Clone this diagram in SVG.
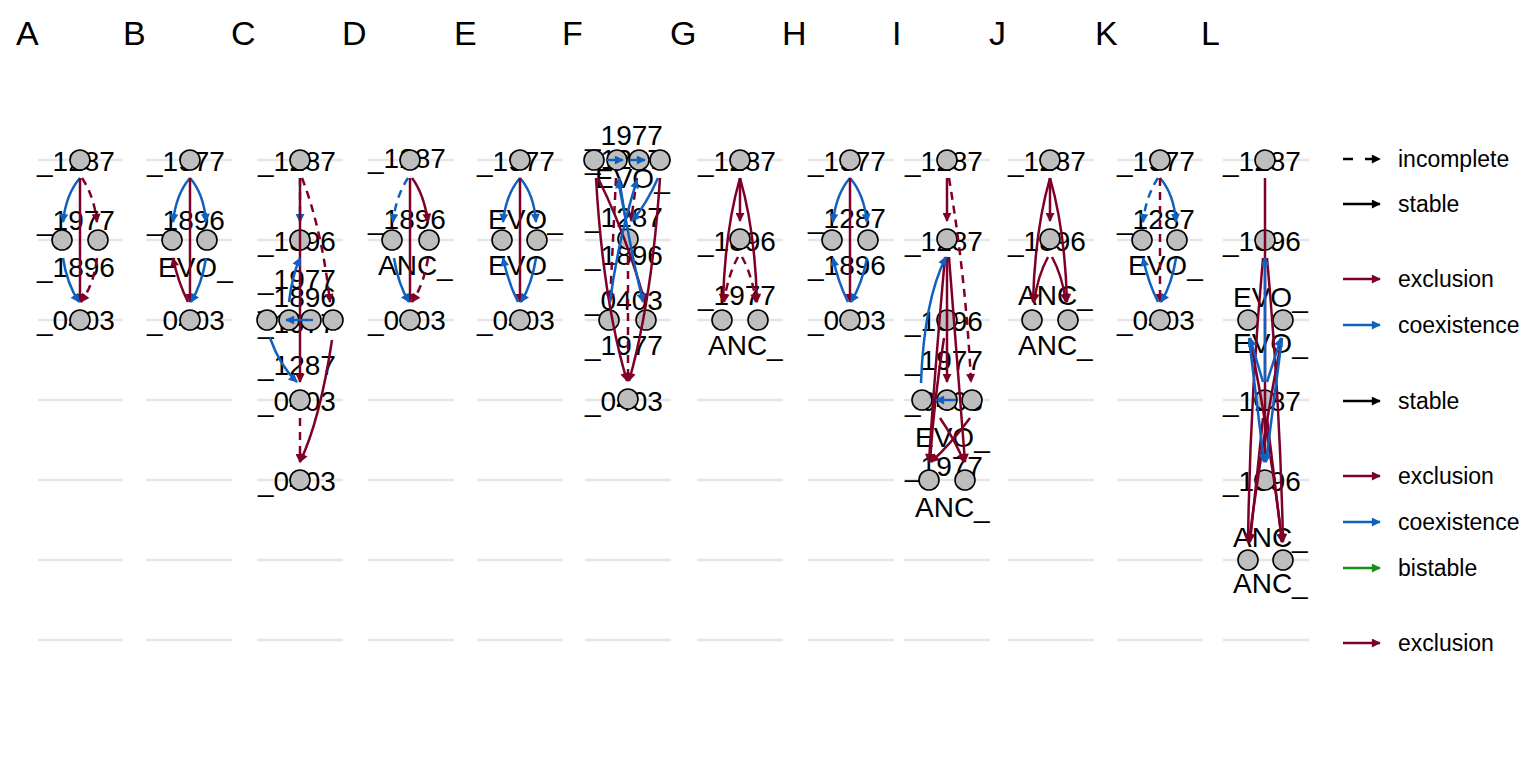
<svg xmlns="http://www.w3.org/2000/svg" width="1536" height="768" viewBox="0 0 1536 768">
<defs>
<style>
.bg{fill:#fff}
.g{stroke:#E6E6E6;stroke-width:2.5;fill:none}
.n{fill:#BEBEBE;stroke:#000;stroke-width:1.6}
.t{font-family:"Liberation Sans",Arial,sans-serif;font-size:28px;fill:#000}
.p{font-family:"Liberation Sans",Arial,sans-serif;font-size:34px;fill:#000}
.lg{font-family:"Liberation Sans",Arial,sans-serif;font-size:23px;fill:#000}
.e{fill:none;stroke-width:2.5}
.r{stroke:#7F0027;marker-end:url(#mr)}
.b{stroke:#1060C0;marker-end:url(#mb)}
.k{stroke:#000;marker-end:url(#mk)}
.gr{stroke:#149114;marker-end:url(#mg)}
.d{stroke-dasharray:8 6}
</style>
<marker id="mr" viewBox="0 0 10 10" refX="9" refY="5" markerWidth="11" markerHeight="9" markerUnits="userSpaceOnUse" orient="auto"><path d="M0,0L10,5L0,10z" fill="#7F0027"/></marker>
<marker id="mb" viewBox="0 0 10 10" refX="9" refY="5" markerWidth="11" markerHeight="9" markerUnits="userSpaceOnUse" orient="auto"><path d="M0,0L10,5L0,10z" fill="#1060C0"/></marker>
<marker id="mk" viewBox="0 0 10 10" refX="9" refY="5" markerWidth="11" markerHeight="9" markerUnits="userSpaceOnUse" orient="auto"><path d="M0,0L10,5L0,10z" fill="#000"/></marker>
<marker id="mg" viewBox="0 0 10 10" refX="9" refY="5" markerWidth="11" markerHeight="9" markerUnits="userSpaceOnUse" orient="auto"><path d="M0,0L10,5L0,10z" fill="#149114"/></marker>
</defs>
<rect class="bg" x="0" y="0" width="1536" height="768"/>

<g id="panel-labels">
<text class="p" x="16" y="45">A</text>
<text class="p" x="123" y="45">B</text>
<text class="p" x="231" y="45">C</text>
<text class="p" x="342" y="45">D</text>
<text class="p" x="454" y="45">E</text>
<text class="p" x="562" y="45">F</text>
<text class="p" x="670" y="45">G</text>
<text class="p" x="782" y="45">H</text>
<text class="p" x="892" y="45">I</text>
<text class="p" x="989" y="45">J</text>
<text class="p" x="1095" y="45">K</text>
<text class="p" x="1201" y="45">L</text>
</g>

<g id="gridlines">
<path class="g" d="M38,160H123M38,240H123M38,320H123M38,400H123M38,480H123M38,560H123M38,640H123"/>
<path class="g" d="M146,160H232M146,240H232M146,320H232M146,400H232M146,480H232M146,560H232M146,640H232"/>
<path class="g" d="M257,160H343M257,240H343M257,320H343M257,400H343M257,480H343M257,560H343M257,640H343"/>
<path class="g" d="M368,160H454M368,240H454M368,320H454M368,400H454M368,480H454M368,560H454M368,640H454"/>
<path class="g" d="M477,160H563M477,240H563M477,320H563M477,400H563M477,480H563M477,560H563M477,640H563"/>
<path class="g" d="M585,160H671M585,240H671M585,320H671M585,400H671M585,480H671M585,560H671M585,640H671"/>
<path class="g" d="M697,160H783M697,240H783M697,320H783M697,400H783M697,480H783M697,560H783M697,640H783"/>
<path class="g" d="M808,160H894M808,240H894M808,320H894M808,400H894M808,480H894M808,560H894M808,640H894"/>
<path class="g" d="M904,160H990M904,240H990M904,320H990M904,400H990M904,480H990M904,560H990M904,640H990"/>
<path class="g" d="M1008,160H1094M1008,240H1094M1008,320H1094M1008,400H1094M1008,480H1094M1008,560H1094M1008,640H1094"/>
<path class="g" d="M1117,160H1203M1117,240H1203M1117,320H1203M1117,400H1203M1117,480H1203M1117,560H1203M1117,640H1203"/>
<path class="g" d="M1223,160H1309M1223,240H1309M1223,320H1309M1223,400H1309M1223,480H1309M1223,560H1309M1223,640H1309"/>
</g>

<g id="labels">
<text class="t" x="37" y="171">_1287</text><text class="t" x="37" y="230">_1977</text><text class="t" x="37" y="277">_1896</text><text class="t" x="37" y="330">_0403</text>
<text class="t" x="147" y="171">_1977</text><text class="t" x="147" y="230">_1896</text><text class="t" x="158" y="277">EVO_</text><text class="t" x="147" y="330">_0403</text>
<text class="t" x="258" y="171">_1287</text><text class="t" x="258" y="251">_1896</text><text class="t" x="258" y="289">_1977</text><text class="t" x="258" y="307">_1896</text><text class="t" x="258" y="333">_1977</text><text class="t" x="258" y="375">_1287</text><text class="t" x="258" y="411">_0403</text><text class="t" x="258" y="491">_0403</text>
<text class="t" x="368" y="168">_1287</text><text class="t" x="368" y="229">_1896</text><text class="t" x="378" y="275">ANC_</text><text class="t" x="368" y="330">_0403</text>
<text class="t" x="477" y="171">_1977</text><text class="t" x="488" y="229">EVO_</text><text class="t" x="488" y="275">EVO_</text><text class="t" x="477" y="330">_0403</text>
<text class="t" x="585" y="145">_1977</text><text class="t" x="585" y="169">_1287</text><text class="t" x="595" y="188">EVO_</text><text class="t" x="585" y="227">_1287</text><text class="t" x="585" y="265">_1896</text><text class="t" x="585" y="310">_0403</text><text class="t" x="585" y="355">_1977</text><text class="t" x="585" y="411">_0403</text>
<text class="t" x="698" y="171">_1287</text><text class="t" x="698" y="251">_1896</text><text class="t" x="698" y="305">_1977</text><text class="t" x="708" y="355">ANC_</text>
<text class="t" x="808" y="171">_1977</text><text class="t" x="808" y="228">_1287</text><text class="t" x="808" y="275">_1896</text><text class="t" x="808" y="330">_0403</text>
<text class="t" x="905" y="171">_1287</text><text class="t" x="905" y="251">_1287</text><text class="t" x="905" y="331">_1896</text><text class="t" x="905" y="370">_1977</text><text class="t" x="905" y="411">_0403</text><text class="t" x="915" y="447">EVO_</text><text class="t" x="905" y="476">_1977</text><text class="t" x="915" y="517">ANC_</text>
<text class="t" x="1008" y="171">_1287</text><text class="t" x="1008" y="251">_1896</text><text class="t" x="1018" y="305">ANC_</text><text class="t" x="1018" y="355">ANC_</text>
<text class="t" x="1117" y="171">_1977</text><text class="t" x="1117" y="229">_1287</text><text class="t" x="1128" y="275">EVO_</text><text class="t" x="1117" y="330">_0403</text>
<text class="t" x="1223" y="171">_1287</text><text class="t" x="1223" y="251">_1896</text><text class="t" x="1233" y="307">EVO_</text><text class="t" x="1233" y="353">EVO_</text><text class="t" x="1223" y="411">_1287</text><text class="t" x="1223" y="491">_1896</text><text class="t" x="1233" y="547">ANC_</text><text class="t" x="1233" y="593">ANC_</text>
</g>

<g id="nodes">
<g id="A-n1"><circle class="n" cx="80" cy="160" r="10"/></g>
<g id="A-n2"><circle class="n" cx="62" cy="240" r="10"/></g>
<g id="A-n3"><circle class="n" cx="98" cy="240" r="10"/></g>
<g id="A-n4"><circle class="n" cx="80" cy="320" r="10"/></g>
<g id="B-n1"><circle class="n" cx="190" cy="160" r="10"/></g>
<g id="B-n2"><circle class="n" cx="172" cy="240" r="10"/></g>
<g id="B-n3"><circle class="n" cx="207" cy="240" r="10"/></g>
<g id="B-n4"><circle class="n" cx="190" cy="320" r="10"/></g>
<g id="C-n1"><circle class="n" cx="300" cy="160" r="10"/></g>
<g id="C-n2"><circle class="n" cx="300" cy="240" r="10"/></g>
<g id="C-n3"><circle class="n" cx="267" cy="320" r="10"/></g>
<g id="C-n4"><circle class="n" cx="289" cy="320" r="10"/></g>
<g id="C-n5"><circle class="n" cx="311" cy="320" r="10"/></g>
<g id="C-n6"><circle class="n" cx="333" cy="320" r="10"/></g>
<g id="C-n7"><circle class="n" cx="300" cy="400" r="10"/></g>
<g id="C-n8"><circle class="n" cx="300" cy="480" r="10"/></g>
<g id="D-n1"><circle class="n" cx="410" cy="160" r="10"/></g>
<g id="D-n2"><circle class="n" cx="392" cy="240" r="10"/></g>
<g id="D-n3"><circle class="n" cx="429" cy="240" r="10"/></g>
<g id="D-n4"><circle class="n" cx="410" cy="320" r="10"/></g>
<g id="E-n1"><circle class="n" cx="520" cy="160" r="10"/></g>
<g id="E-n2"><circle class="n" cx="502" cy="240" r="10"/></g>
<g id="E-n3"><circle class="n" cx="537" cy="240" r="10"/></g>
<g id="E-n4"><circle class="n" cx="520" cy="320" r="10"/></g>
<g id="F-n1"><circle class="n" cx="594" cy="160" r="10"/></g>
<g id="F-n2"><circle class="n" cx="617" cy="160" r="10"/></g>
<g id="F-n3"><circle class="n" cx="639" cy="160" r="10"/></g>
<g id="F-n4"><circle class="n" cx="660" cy="160" r="10"/></g>
<g id="F-n5"><circle class="n" cx="628" cy="239" r="10"/></g>
<g id="F-n6"><circle class="n" cx="609" cy="320" r="10"/></g>
<g id="F-n7"><circle class="n" cx="646" cy="320" r="10"/></g>
<g id="F-n8"><circle class="n" cx="628" cy="399" r="10"/></g>
<g id="G-n1"><circle class="n" cx="740" cy="160" r="10"/></g>
<g id="G-n2"><circle class="n" cx="740" cy="239" r="10"/></g>
<g id="G-n3"><circle class="n" cx="722" cy="320" r="10"/></g>
<g id="G-n4"><circle class="n" cx="758" cy="320" r="10"/></g>
<g id="H-n1"><circle class="n" cx="850" cy="160" r="10"/></g>
<g id="H-n2"><circle class="n" cx="832" cy="240" r="10"/></g>
<g id="H-n3"><circle class="n" cx="868" cy="240" r="10"/></g>
<g id="H-n4"><circle class="n" cx="850" cy="320" r="10"/></g>
<g id="I-n1"><circle class="n" cx="947" cy="160" r="10"/></g>
<g id="I-n2"><circle class="n" cx="947" cy="239" r="10"/></g>
<g id="I-n3"><circle class="n" cx="947" cy="320" r="10"/></g>
<g id="I-n4"><circle class="n" cx="922" cy="400" r="10"/></g>
<g id="I-n5"><circle class="n" cx="947" cy="400" r="10"/></g>
<g id="I-n6"><circle class="n" cx="972" cy="400" r="10"/></g>
<g id="I-n7"><circle class="n" cx="929" cy="480" r="10"/></g>
<g id="I-n8"><circle class="n" cx="965" cy="480" r="10"/></g>
<g id="J-n1"><circle class="n" cx="1050" cy="160" r="10"/></g>
<g id="J-n2"><circle class="n" cx="1050" cy="239" r="10"/></g>
<g id="J-n3"><circle class="n" cx="1032" cy="320" r="10"/></g>
<g id="J-n4"><circle class="n" cx="1068" cy="320" r="10"/></g>
<g id="K-n1"><circle class="n" cx="1160" cy="160" r="10"/></g>
<g id="K-n2"><circle class="n" cx="1142" cy="240" r="10"/></g>
<g id="K-n3"><circle class="n" cx="1177" cy="240" r="10"/></g>
<g id="K-n4"><circle class="n" cx="1160" cy="320" r="10"/></g>
<g id="L-n1"><circle class="n" cx="1265" cy="160" r="10"/></g>
<g id="L-n2"><circle class="n" cx="1265" cy="240" r="10"/></g>
<g id="L-n3"><circle class="n" cx="1248" cy="320" r="10"/></g>
<g id="L-n4"><circle class="n" cx="1283" cy="320" r="10"/></g>
<g id="L-n5"><circle class="n" cx="1265" cy="400" r="10"/></g>
<g id="L-n6"><circle class="n" cx="1265" cy="480" r="10"/></g>
<g id="L-n7"><circle class="n" cx="1248" cy="560" r="10"/></g>
<g id="L-n8"><circle class="n" cx="1283" cy="560" r="10"/></g>
</g>

<g id="connectors">
<!-- A -->
<path class="e b" d="M80,178Q66,194 63,222"/>
<path class="e r" d="M80,178L80,302"/>
<path class="e r d" d="M82,178Q94,196 97,222"/>
<path class="e b" d="M63,258Q67,284 79,302"/>
<path class="e r d" d="M97,258Q94,284 81,302"/>
<!-- B -->
<path class="e b" d="M190,178Q176,194 173,222"/>
<path class="e b" d="M190,178Q204,194 206,222"/>
<path class="e r" d="M190,178L190,302"/>
<path class="e r" d="M188,302Q178,282 173,258"/>
<path class="e b" d="M206,258Q202,284 191,302"/>
<!-- C -->
<path class="e b d" d="M300,178L300,222"/>
<path class="e r" d="M300,178L300,382"/>
<path class="e r d" d="M302,178Q322,230 330,302"/>
<path class="e b" d="M289,302Q292,276 300,258"/>
<path class="e b" d="M313,320L286,320"/>
<path class="e b" d="M270,338Q280,366 297,382"/>
<path class="e r" d="M332,340Q320,420 300,462"/>
<path class="e r d" d="M300,418L300,462"/>
<!-- D -->
<path class="e b d" d="M408,178Q396,196 393,222"/>
<path class="e r" d="M412,178Q424,194 428,222"/>
<path class="e r" d="M410,178L410,302"/>
<path class="e b" d="M394,258Q398,284 409,302"/>
<path class="e r d" d="M428,258Q424,284 412,302"/>
<!-- E -->
<path class="e b" d="M520,178Q506,194 503,222"/>
<path class="e b" d="M520,178Q534,194 536,222"/>
<path class="e r" d="M520,178L520,302"/>
<path class="e b" d="M518,302Q508,282 503,258"/>
<path class="e b" d="M536,258Q532,284 521,302"/>
<!-- F -->
<path class="e r" d="M596,178Q603,300 627,381"/>
<path class="e r" d="M660,178Q652,300 629,381"/>
<path class="e r d" d="M616,178Q613,240 610,302"/>
<path class="e r d" d="M628,257L628,381"/>
<path class="e r" d="M598,178Q625,232 645,302"/>
<path class="e r d" d="M637,178L631,221"/>
<path class="e b" d="M607,160L623,160"/>
<path class="e b" d="M630,160L645,160"/>
<path class="e b" d="M626,221L618,180"/>
<path class="e b" d="M610,302Q618,240 637,180"/>
<path class="e b" d="M658,178Q646,205 632,221"/>
<path class="e b" d="M619,178Q628,240 643,302"/>
<!-- G -->
<path class="e r" d="M740,178L740,221"/>
<path class="e r" d="M740,178Q725,230 723,302"/>
<path class="e r" d="M740,178Q755,230 757,302"/>
<path class="e r d" d="M738,257Q728,275 724,302"/>
<path class="e r d" d="M742,257Q752,275 756,302"/>
<!-- H -->
<path class="e b" d="M850,178Q836,194 833,222"/>
<path class="e b" d="M850,178Q864,194 867,222"/>
<path class="e r" d="M850,178L850,302"/>
<path class="e b" d="M848,302Q838,282 833,258"/>
<path class="e b" d="M867,258Q862,284 851,302"/>
<!-- I -->
<path class="e r" d="M947,178L947,221"/>
<path class="e r d" d="M949,178Q966,280 971,382"/>
<path class="e r" d="M947,257L947,382"/>
<path class="e r" d="M945,257Q934,380 929,462"/>
<path class="e r" d="M949,257Q959,380 965,462"/>
<path class="e r" d="M944,338Q934,400 930,462"/>
<path class="e r" d="M970,418Q950,445 931,462"/>
<path class="e r" d="M940,418Q955,440 964,462"/>
<path class="e b" d="M921,383Q924,300 946,257"/>
<path class="e b" d="M956,400L936,400"/>
<!-- J -->
<path class="e r" d="M1050,178L1050,221"/>
<path class="e r" d="M1050,178Q1035,230 1033,302"/>
<path class="e r" d="M1050,178Q1065,230 1067,302"/>
<path class="e r" d="M1048,257Q1038,275 1034,302"/>
<path class="e r" d="M1052,257Q1062,275 1066,302"/>
<!-- K -->
<path class="e b d" d="M1158,178Q1146,196 1143,222"/>
<path class="e b" d="M1160,178Q1174,194 1176,222"/>
<path class="e r d" d="M1160,178L1160,302"/>
<path class="e b" d="M1158,302Q1148,282 1143,258"/>
<path class="e b" d="M1176,258Q1172,284 1161,302"/>
<!-- L -->
<path class="e r" d="M1265,178L1265,462"/>
<path class="e r" d="M1263,258Q1250,400 1248,542"/>
<path class="e r" d="M1267,258Q1280,400 1283,542"/>
<path class="e r" d="M1250,338Q1270,440 1282,542"/>
<path class="e r" d="M1282,338Q1262,440 1249,542"/>
<path class="e r" d="M1263,418L1250,542"/>
<path class="e r" d="M1267,418L1282,542"/>
<path class="e b" d="M1265,382L1265,258"/>
<path class="e b" d="M1263,382L1250,338"/>
<path class="e b" d="M1267,382L1281,338"/>
<path class="e b" d="M1249,338L1264,462"/>
<path class="e b" d="M1282,338L1266,462"/>
</g>

<g id="legend">
<path class="e k" d="M1343,159L1380,159" style="stroke-dasharray:10 12"/>
<text class="lg" x="1398" y="167">incomplete</text>
<path class="e k" d="M1343,204L1380,204"/>
<text class="lg" x="1398" y="212">stable</text>
<path class="e r" d="M1343,279L1380,279"/>
<text class="lg" x="1398" y="287">exclusion</text>
<path class="e b" d="M1343,325L1380,325"/>
<text class="lg" x="1398" y="333">coexistence</text>
<path class="e k" d="M1343,401L1380,401"/>
<text class="lg" x="1398" y="409">stable</text>
<path class="e r" d="M1343,476L1380,476"/>
<text class="lg" x="1398" y="484">exclusion</text>
<path class="e b" d="M1343,522L1380,522"/>
<text class="lg" x="1398" y="530">coexistence</text>
<path class="e gr" d="M1343,568L1380,568"/>
<text class="lg" x="1398" y="576">bistable</text>
<path class="e r" d="M1343,643L1380,643"/>
<text class="lg" x="1398" y="651">exclusion</text>
</g>
</svg>
